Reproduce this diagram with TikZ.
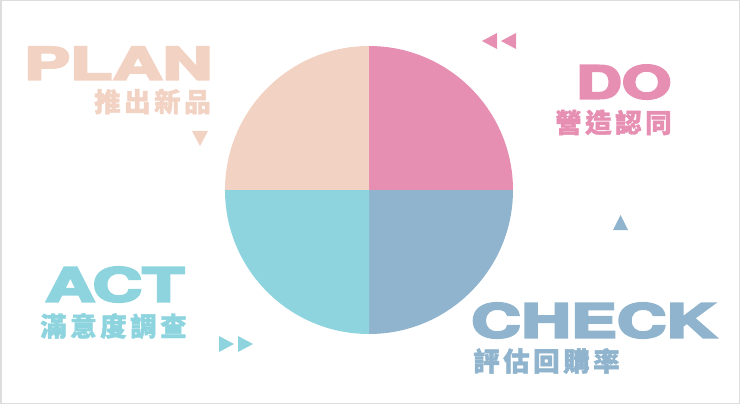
\documentclass[tikz,border=0pt]{standalone}
\usepackage{fontspec}
\usepackage{graphicx}
\newfontfamily\latf{TeX Gyre Heros}[FakeBold=4.5]
\newfontfamily\cjkf{Noto Sans CJK TC}[FakeBold=1.5]
\definecolor{cpeach}{HTML}{F2D2C2}
\definecolor{cpink}{HTML}{E68FB2}
\definecolor{cblue}{HTML}{90B4CD}
\definecolor{ccyan}{HTML}{8DD4DE}
\definecolor{cborder}{HTML}{DDDDDD}
\newcommand\cjkgap{\hspace{3.5pt}}
\tikzset{
  bigword/.style={anchor=base west, inner sep=0pt},
  subword/.style={anchor=west, inner sep=0pt, font=\cjkf\bfseries\fontsize{26.5pt}{30pt}\selectfont},
}
\begin{document}
\begin{tikzpicture}[x=1pt,y=-1pt]
\useasboundingbox (0,0) rectangle (740,404);
\draw[cborder, line width=1.5pt] (0.75,0.75) rectangle (739.25,403.25);
% pie quadrants
\coordinate (c) at (369,190);
\begin{scope}\clip (225,46) rectangle (369,190); \fill[cpeach] (c) circle[radius=144]; \end{scope}
\begin{scope}\clip (369,46) rectangle (513,190); \fill[cpink] (c) circle[radius=144]; \end{scope}
\begin{scope}\clip (369,190) rectangle (513,334); \fill[cblue] (c) circle[radius=144]; \end{scope}
\begin{scope}\clip (225,190) rectangle (369,334); \fill[ccyan] (c) circle[radius=144]; \end{scope}
% titles
\node[bigword, text=cpeach] (plan) at (24,79.5) {\resizebox{188pt}{32.5pt}{\latf\bfseries PLAN}};
\node[bigword, text=cpink] (do) at (576,98.5) {\resizebox{95pt}{33.5pt}{\latf\bfseries DO}};
\node[bigword, text=ccyan] (act) at (45,301.5) {\resizebox{139pt}{34.5pt}{\latf\bfseries ACT}};
\node[bigword, text=cblue] (check) at (471,337.5) {\resizebox{245pt}{34.5pt}{\latf\bfseries CHECK}};
% subtitles
\node[subword, text=cpeach] (plansub) at (94,101.5) {推\cjkgap 出\cjkgap 新\cjkgap 品};
\node[subword, text=cpink] (dosub) at (555,122.5) {營\cjkgap 造\cjkgap 認\cjkgap 同};
\node[subword, text=ccyan] (actsub) at (40,326) {滿\cjkgap 意\cjkgap 度\cjkgap 調\cjkgap 查};
\node[subword, text=cblue] (checksub) at (473,361) {評\cjkgap 估\cjkgap 回\cjkgap 購\cjkgap 率};
% triangles
\fill[cpink] (482,41) -- (497,33) -- (497,49) -- cycle;
\fill[cpink] (501,41) -- (516,33) -- (516,49) -- cycle;
\fill[cpeach] (192,131) -- (208,131) -- (200,146) -- cycle;
\fill[cblue] (613,230) -- (628,230) -- (620.5,215) -- cycle;
\fill[ccyan] (219,336) -- (219,352) -- (234,344) -- cycle;
\fill[ccyan] (238,336) -- (238,352) -- (253,344) -- cycle;
\end{tikzpicture}
\end{document}
